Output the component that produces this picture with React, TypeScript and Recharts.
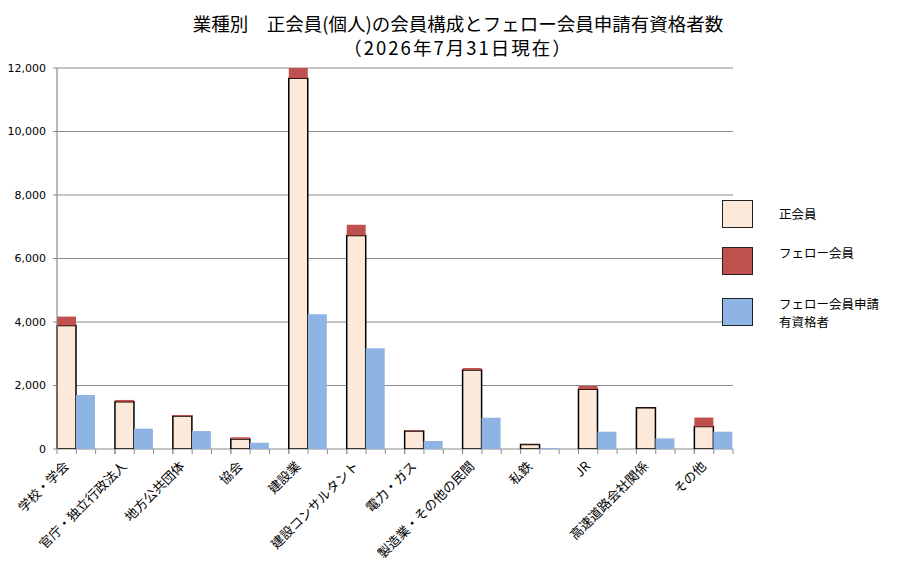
import { BarChart, Bar, XAxis, YAxis, CartesianGrid } from "recharts";

const categories = [
  "学校・学会", "官庁・独立行政法人", "地方公共団体", "協会", "建設業", "建設コンサルタント",
  "電力・ガス", "製造業・その他の民間", "私鉄", "JR", "高速道路会社関係", "その他",
];
const regular = [3890, 1490, 1040, 315, 11680, 6725, 565, 2490, 140, 1880, 1300, 705];
const fellow = [280, 55, 30, 55, 320, 335, 25, 60, 10, 105, 5, 285];
const eligible = [1700, 640, 565, 200, 4245, 3175, 250, 985, 30, 545, 335, 545];
const yTicks = [0, 2000, 4000, 6000, 8000, 10000, 12000];

const data = categories.map((name, i) => ({
  name, regular: regular[i], fellow: fellow[i], eligible: eligible[i],
}));

const W = 900, H = 578;
const Y_W = 57;
// 35 slots are visible; the empty third slot of the last category falls outside the frame
const PLOT_W = 676;
const SLOT = PLOT_W / (categories.length * 3 - 1);
const BAND = SLOT * 3;
const M = { top: 68, right: W - Y_W - BAND * categories.length, left: 0, bottom: 0 };
const GRID = "#8c8c8c";

const JP = "'Noto Sans CJK JP', 'DejaVu Sans', sans-serif";

const CatTick = (props: any) => {
  const { x, y, payload, index } = props;
  const left = x - BAND / 2;
  const n = index === categories.length - 1 ? 3 : 4;
  const ax = left + SLOT / 2 + 3;
  return (
    <g>
      {Array.from({ length: n }, (_, k) => (
        <line key={k} x1={left + k * SLOT} x2={left + k * SLOT} y1={y} y2={y + 5} stroke={GRID} strokeWidth={1} />
      ))}
      <text x={ax} y={y + 18} textAnchor="end" fontSize={13} fontFamily={JP} fill="#000"
        transform={`rotate(-45, ${ax}, ${y + 18})`}>
        {payload.value}
      </text>
    </g>
  );
};

const GridLine = (props: any) => (
  <line key={props.key} x1={props.x1} x2={props.x2 - SLOT} y1={props.y1} y2={props.y2} stroke={GRID} strokeWidth={1.2} />
);

const LEGEND = [
  { label: ["正会員"], color: "#FDE9D9" },
  { label: ["フェロー会員"], color: "#C0504D" },
  { label: ["フェロー会員申請", "有資格者"], color: "#8DB4E2" },
];

export default function App() {
  return (
    <div style={{ position: "absolute", left: 0, top: 0, width: W, height: H, background: "#fff", fontFamily: JP }}>
      <div style={{ position: "absolute", left: 8, top: 11, width: W, textAlign: "center", fontSize: 18.5, lineHeight: "24px", color: "#000" }}>
        <div>業種別　正会員(個人)の会員構成とフェロー会員申請有資格者数</div>
        <div style={{ letterSpacing: 2 }}>（2026年7月31日現在）</div>
      </div>
      <BarChart width={W} height={H} data={data} margin={M} barCategoryGap={0} barGap={0}>
        <CartesianGrid vertical={false} horizontal={GridLine} />
        <XAxis dataKey="name" height={129} interval={0} tick={<CatTick />} tickLine={false} tickSize={0} tickMargin={0}
          axisLine={false} />
        <YAxis width={Y_W} domain={[0, 12000]} ticks={yTicks} allowDataOverflow
          tickFormatter={(v: number) => v.toLocaleString("en-US")}
          tick={{ fontSize: 11, fill: "#000", fontFamily: "'DejaVu Sans', sans-serif" }}
          tickSize={4} tickMargin={7} tickLine={{ stroke: GRID }} axisLine={{ stroke: GRID, strokeWidth: 1.2 }} />
        <Bar dataKey="regular" stackId="a" fill="#FDE9D9" stroke="#000" strokeWidth={1.5} isAnimationActive={false} />
        <Bar dataKey="fellow" stackId="a" fill="#C0504D" isAnimationActive={false} />
        <Bar dataKey="eligible" fill="#8DB4E2" isAnimationActive={false} />
        <Bar dataKey={() => 0} fill="none" isAnimationActive={false} />
      </BarChart>
      {LEGEND.map((l, i) => (
        <div key={i} style={{ position: "absolute", left: 722, top: [200, 247, 298][i], display: "flex" }}>
          <div style={{ width: 29, height: 26, background: l.color, border: "1.5px solid #222" }} />
          <div style={{ marginLeft: 26, marginTop: [5, -3, -3][i], fontSize: 12.5, lineHeight: "18px", color: "#000" }}>
            {l.label.map((t) => <div key={t}>{t}</div>)}
          </div>
        </div>
      ))}
    </div>
  );
}
